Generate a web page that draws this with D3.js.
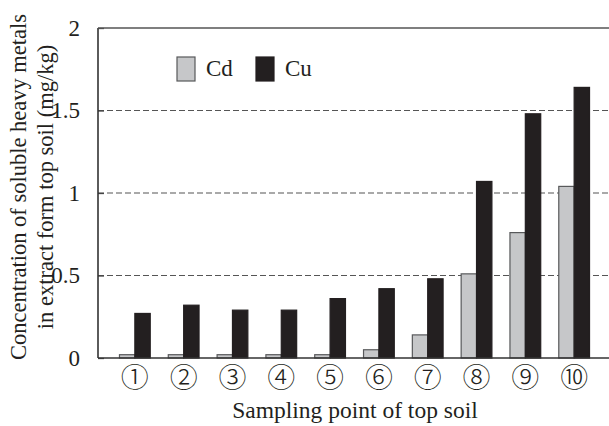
<!DOCTYPE html>
<html>
<head>
<meta charset="utf-8">
<script src="https://cdn.jsdelivr.net/npm/d3@7"></script>
<style>
	body { margin: 0; background: #fff; }
</style>
</head>
<body>
<svg width="609" height="426"></svg>
<script>
// sampling points and measured concentrations (mg/kg)
const points = ["①", "②", "③", "④", "⑤", "⑥", "⑦", "⑧", "⑨", "⑩"];
const cdValues = [0.02, 0.02, 0.02, 0.02, 0.02, 0.05, 0.14, 0.51, 0.76, 1.04];
const cuValues = [0.27, 0.32, 0.29, 0.29, 0.36, 0.42, 0.48, 1.07, 1.48, 1.64];
const yTicks = [0, 0.5, 1, 1.5, 2];
const seriesNames = ["Cd", "Cu"];

const colors = { Cd: "#c6c7c9", Cu: "#231f20" };
const serif = "'Liberation Serif', 'Times New Roman', 'DejaVu Serif', serif";

const svg = d3.select("svg");
const plotLeft = 98, plotRight = 609, plotTop = 28, plotBottom = 358;

const x = d3.scaleBand()
	.domain(points)
	.range([plotLeft, plotRight + 2])
	.paddingInner(0.37)
	.paddingOuter(0.44);

const xSub = d3.scaleBand()
	.domain(seriesNames)
	.range([0, x.bandwidth()]);

const y = d3.scaleLinear()
	.domain([0, 2])
	.range([plotBottom, plotTop]);

// dashed grid lines
svg.append("g")
	.selectAll("line")
	.data(yTicks.filter(d => d > 0 && d < 2))
	.join("line")
	.attr("x1", plotLeft)
	.attr("x2", plotRight)
	.attr("y1", d => y(d))
	.attr("y2", d => y(d))
	.attr("stroke", "#555")
	.attr("stroke-width", 1.2)
	.attr("stroke-dasharray", "6,3");

// bars
const rows = points.map((p, i) => ({ point: p, Cd: cdValues[i], Cu: cuValues[i] }));
const groups = svg.append("g")
	.selectAll("g")
	.data(rows)
	.join("g")
	.attr("transform", d => `translate(${x(d.point)},0)`);

groups.selectAll("rect")
	.data(d => seriesNames.map(k => ({ key: k, value: d[k] })))
	.join("rect")
	.attr("x", d => xSub(d.key))
	.attr("width", xSub.bandwidth())
	.attr("y", d => y(d.value))
	.attr("height", d => plotBottom - y(d.value))
	.attr("fill", d => colors[d.key])
	.attr("stroke", d => d.key === "Cd" ? "#58595b" : colors.Cu)
	.attr("stroke-width", 1.2);

// axes frame
const yAxis = d3.axisLeft(y)
	.tickValues(yTicks)
	.tickFormat(d3.format("~g"))
	.tickSize(-6)
	.tickPadding(18);

const yg = svg.append("g")
	.attr("transform", `translate(${plotLeft},0)`)
	.call(yAxis);
yg.select(".domain").remove();
yg.attr("font-family", null).attr("font-size", null);
yg.selectAll("line").attr("stroke", "#444").attr("stroke-width", 1.3);
yg.selectAll("text")
	.style("font-family", serif)
	.style("font-size", "23px")
	.attr("fill", "#231f20");

svg.append("line")
	.attr("x1", plotLeft).attr("x2", plotLeft)
	.attr("y1", plotTop).attr("y2", plotBottom)
	.attr("stroke", "#333").attr("stroke-width", 1.6);
svg.append("line")
	.attr("x1", plotLeft).attr("x2", plotRight)
	.attr("y1", plotTop).attr("y2", plotTop)
	.attr("stroke", "#555").attr("stroke-width", 1.4);
svg.append("line")
	.attr("x1", plotLeft).attr("x2", plotRight)
	.attr("y1", plotBottom).attr("y2", plotBottom)
	.attr("stroke", "#333").attr("stroke-width", 1.6);

// x labels
const xAxis = d3.axisBottom(x).tickSize(0).tickPadding(10);
const xg = svg.append("g")
	.attr("transform", `translate(0,${plotBottom})`)
	.call(xAxis);
xg.select(".domain").remove();
xg.attr("font-family", null).attr("font-size", null);
xg.selectAll("text")
	.style("font-family", "'Noto Sans CJK JP', 'Noto Sans CJK SC', sans-serif")
	.style("font-size", "28px")
	.style("font-weight", "300")
	.attr("fill", "#231f20");

svg.append("text")
	.attr("x", 355)
	.attr("y", 418)
	.attr("text-anchor", "middle")
	.style("font-family", serif)
	.style("font-size", "23.5px")
	.attr("fill", "#231f20")
	.text("Sampling point of top soil");

// y title, two lines
const yTitle = svg.append("text")
	.attr("transform", "translate(26,187) rotate(-90)")
	.attr("text-anchor", "middle")
	.style("font-family", serif)
	.style("font-size", "22.5px")
	.attr("fill", "#231f20");
yTitle.append("tspan").attr("x", 0).attr("dy", 0).text("Concentration of soluble heavy metals");
yTitle.append("tspan").attr("x", 0).attr("dy", 27).text("in extract form top soil (mg/kg)");

// legend
const legend = svg.append("g")
	.selectAll("g")
	.data(seriesNames)
	.join("g")
	.attr("transform", (d, i) => `translate(${177 + i * 79},57)`);

legend.append("rect")
	.attr("width", 18)
	.attr("height", 24)
	.attr("fill", d => colors[d])
	.attr("stroke", d => d === "Cd" ? "#58595b" : colors.Cu)
	.attr("stroke-width", 1.2);

legend.append("text")
	.attr("x", 29)
	.attr("y", 19)
	.style("font-family", serif)
	.style("font-size", "23px")
	.attr("fill", "#231f20")
	.text(d => d);
</script>
</body>
</html>
